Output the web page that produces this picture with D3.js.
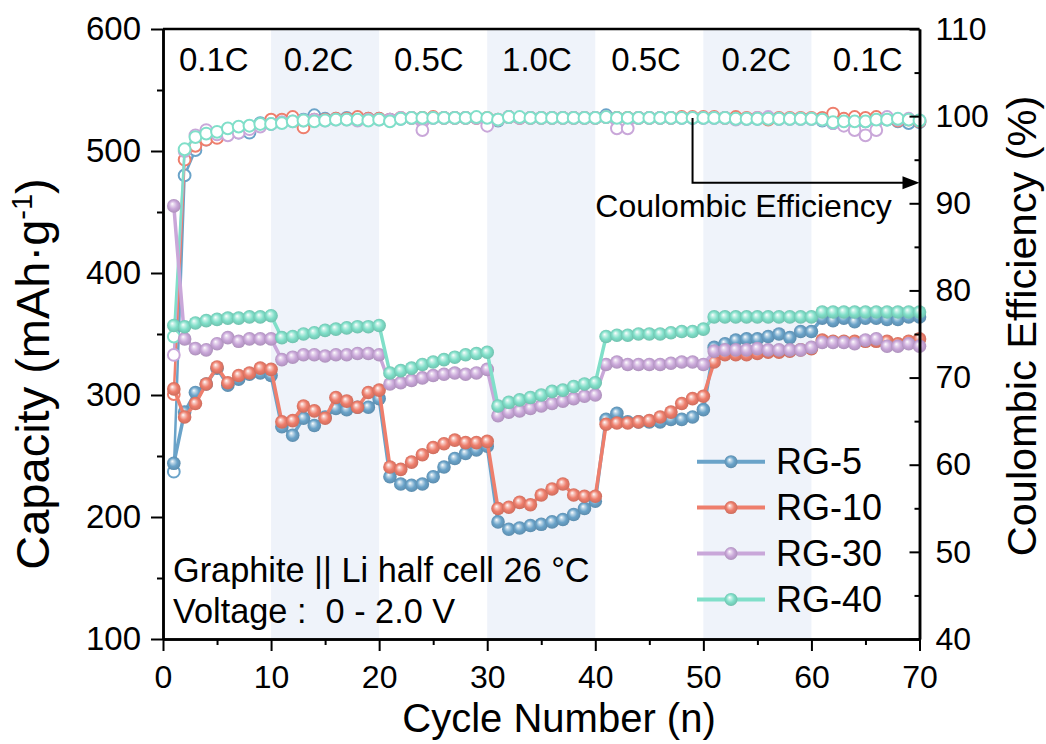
<!DOCTYPE html>
<html>
<head>
<meta charset="utf-8">
<script src="https://cdn.jsdelivr.net/npm/d3@7"></script>
<style>
  html, body { margin: 0; padding: 0; background: #fff; }
  svg { display: block; font-family: "Liberation Sans", Arial, Helvetica, sans-serif; }
  text { white-space: pre; }
</style>
</head>
<body>
<svg id="chart" width="1046" height="744"></svg>
<script>
// Rate-capability test: discharge capacity (left axis) and Coulombic efficiency (right axis)
const cycles = d3.range(1, 71);

const seriesNames = ["RG-5", "RG-10", "RG-30", "RG-40"];
const seriesColors = ["#6aa3c9", "#ee7e6c", "#c9a7d9", "#80dfc9"];

// Capacity (mAh/g) per cycle
const capRG5 = [244, 286, 302, 309, 322, 308, 313, 317, 318, 316,
                274, 267, 281, 275, 282, 289, 288, 290, 290, 297,
                233, 227, 226, 227, 233, 241, 248, 252, 255, 258,
                196, 190, 191, 193, 194, 196, 198, 202, 207, 213,
                280, 285, 278, 278, 278, 278, 280, 280, 282, 288,
                339, 342, 345, 346, 346, 348, 350, 347, 352, 352,
                363, 361, 363, 360, 363, 363, 362, 362, 364, 364];
const capRG10 = [305, 282, 293, 309, 323, 310, 316, 318, 322, 321,
                 278, 279, 291, 287, 281, 298, 295, 290, 302, 304,
                 241, 239, 245, 251, 257, 260, 263, 261, 261, 262,
                 207, 208, 212, 210, 218, 223, 227, 218, 217, 217,
                 276, 277, 277, 278, 279, 282, 286, 293, 297, 299,
                 327, 333, 333, 333, 334, 335, 335, 336, 337, 338,
                 345, 344, 344, 344, 344, 344, 344, 342, 344, 346];
const capRG30 = [455, 346, 338, 337, 342, 347, 344, 346, 346, 346,
                 329, 331, 333, 333, 332, 333, 333, 334, 334, 333,
                 309, 310, 312, 314, 316, 317, 318, 317, 318, 321,
                 283, 286, 287, 289, 291, 293, 295, 297, 299, 300,
                 325, 327, 325, 325, 325, 325, 326, 327, 327, 325,
                 336, 337, 337, 337, 338, 337, 337, 337, 337, 339,
                 343, 343, 343, 342, 345, 346, 340, 340, 342, 340];
const capRG40 = [357, 356, 359, 361, 362, 363, 363, 364, 364, 365,
                 347, 348, 350, 351, 353, 354, 355, 356, 356, 357,
                 318, 320, 322, 325, 327, 329, 331, 333, 334, 335,
                 291, 294, 296, 298, 300, 303, 304, 307, 309, 310,
                 348, 349, 349, 350, 350, 350, 351, 352, 352, 354,
                 364, 364, 364, 364, 364, 364, 364, 364, 364, 364,
                 368, 368, 368, 368, 368, 368, 368, 368, 368, 368];

// Coulombic efficiency (%) per cycle
const ceRG5 = [59.2, 93.2, 96.1, 97.3, 97.7, 98.0, 98.1, 98.1, 99.2, 99.1,
               99.4, 99.5, 99.6, 100.1, 99.7, 99.7, 99.8, 99.8, 99.7, 99.7,
               99.6, 99.7, 99.8, 99.8, 99.8, 99.8, 99.8, 99.8, 99.8, 99.6,
               99.5, 99.9, 99.8, 99.8, 99.8, 99.8, 99.8, 99.8, 99.8, 99.8,
               100.1, 99.8, 99.8, 99.8, 99.8, 99.8, 99.8, 99.8, 99.8, 99.8,
               99.8, 99.8, 99.7, 99.7, 99.7, 99.7, 99.7, 99.7, 99.7, 99.7,
               99.5, 99.2, 99.2, 99.2, 99.4, 99.6, 99.6, 99.4, 99.2, 99.3];
const ceRG10 = [68.1, 95.0, 96.6, 97.3, 97.5, 98.1, 98.3, 98.6, 99.0, 99.6,
                99.6, 99.9, 98.7, 99.6, 99.6, 99.7, 99.7, 99.9, 99.7, 99.7,
                99.6, 99.8, 99.8, 99.8, 99.9, 99.8, 99.8, 99.8, 99.8, 99.8,
                99.6, 99.9, 99.8, 99.8, 99.8, 99.8, 99.8, 99.8, 99.8, 99.8,
                99.9, 99.8, 99.8, 99.8, 99.8, 99.8, 99.8, 99.9, 99.9, 99.9,
                99.9, 99.8, 99.9, 99.8, 99.8, 99.6, 99.8, 99.8, 99.8, 99.8,
                99.8, 100.3, 99.7, 99.9, 99.8, 99.9, 99.7, 99.5, 99.6, 99.4];
const ceRG30 = [72.6, 96.0, 97.8, 98.4, 97.9, 97.8, 98.1, 98.5, 98.8, 99.1,
                99.3, 99.4, 99.5, 99.6, 99.5, 99.6, 99.6, 99.5, 99.6, 99.6,
                99.6, 99.8, 99.8, 98.4, 99.8, 99.8, 99.8, 99.8, 99.8, 98.9,
                99.6, 99.9, 99.8, 99.8, 99.8, 99.8, 99.8, 99.8, 99.8, 99.8,
                99.9, 98.6, 98.6, 99.8, 99.8, 99.8, 99.8, 99.8, 99.8, 99.8,
                99.8, 99.8, 99.6, 99.7, 99.8, 99.9, 99.7, 99.7, 99.7, 99.7,
                99.6, 99.2, 98.9, 98.4, 97.8, 98.4, 99.9, 99.6, 99.7, 99.5];
const ceRG40 = [74.7, 96.2, 97.6, 98.0, 98.2, 98.6, 98.8, 98.9, 99.1, 99.1,
                99.2, 99.4, 99.5, 99.4, 99.5, 99.6, 99.6, 99.6, 99.5, 99.6,
                99.4, 99.7, 99.8, 99.8, 99.8, 99.8, 99.8, 99.8, 99.9, 99.8,
                99.6, 99.9, 99.9, 99.8, 99.8, 99.8, 99.8, 99.8, 99.8, 99.8,
                99.9, 99.8, 99.8, 99.8, 99.8, 99.8, 99.8, 99.8, 99.8, 99.8,
                99.8, 99.8, 99.7, 99.7, 99.7, 99.7, 99.7, 99.7, 99.7, 99.7,
                99.6, 99.3, 99.4, 99.4, 99.4, 99.6, 99.6, 99.7, 99.6, 99.5];

const capSeries = [capRG5, capRG10, capRG30, capRG40];
const ceSeries = [ceRG5, ceRG10, ceRG30, ceRG40];

// Current-rate steps
const rateLabels = ["0.1C", "0.2C", "0.5C", "1.0C", "0.5C", "0.2C", "0.1C"];
const rateLabelX = [4.7, 14.4, 24.6, 34.6, 44.7, 54.9, 65.2];
const shadedBands = [[10, 20], [30, 40], [50, 60]];

// Axis ticks
const xMajor = d3.range(0, 71, 10);
const xMinor = d3.range(5, 70, 10);
const capMajor = d3.range(100, 601, 100);
const capMinor = d3.range(150, 600, 100);
const ceMajor = d3.range(40, 111, 10);
const ceMinor = d3.range(45, 110, 10);

// Arrow pointing from the efficiency curves to the right axis
const ceArrowCycle = 49;
const ceArrowLevel = 92.36;

const svg = d3.select("#chart");
const L = 163, R = 919.5, T = 29, B = 639;

const x = d3.scaleLinear().domain([0, 70]).range([L, R]);
const yCap = d3.scaleLinear().domain([100, 600]).range([B, T]);
const yCE = d3.scaleLinear().domain([40, 110]).range([B, T]);

// Sphere-like marker fills
const defs = svg.append("defs");
seriesColors.forEach((c, i) => {
  const g = defs.append("radialGradient")
    .attr("id", "ball" + i)
    .attr("cx", "50%").attr("cy", "50%").attr("r", "55%")
    .attr("fx", "38%").attr("fy", "34%");
  const col = d3.color(c);
  g.append("stop").attr("offset", "0%").attr("stop-color", "#ffffff");
  g.append("stop").attr("offset", "22%").attr("stop-color", d3.interpolateRgb("#ffffff", c)(0.45));
  g.append("stop").attr("offset", "55%").attr("stop-color", c);
  g.append("stop").attr("offset", "100%").attr("stop-color", col.darker(0.5).formatHex());
});

// Shaded rate windows
svg.append("g").selectAll("rect").data(shadedBands).join("rect")
  .attr("x", d => x(d[0])).attr("width", d => x(d[1]) - x(d[0]))
  .attr("y", T).attr("height", B - T)
  .attr("fill", "#eff3fa");

// Rate labels
svg.append("g").selectAll("text").data(rateLabels).join("text")
  .attr("x", (d, i) => x(rateLabelX[i])).attr("y", 70.5)
  .attr("text-anchor", "middle").attr("font-size", 33).attr("fill", "#000")
  .text(d => d);

// Coulombic efficiency curves (hollow circles)
const ceLine = d3.line().x((d, i) => x(cycles[i])).y(d => yCE(d));
ceSeries.forEach((s, k) => {
  const g = svg.append("g");
  g.append("path").attr("d", ceLine(s)).attr("fill", "none")
    .attr("stroke", seriesColors[k]).attr("stroke-width", 2.5);
  g.selectAll("circle").data(s).join("circle")
    .attr("cx", (d, i) => x(cycles[i])).attr("cy", d => yCE(d)).attr("r", 5.9)
    .attr("fill", "#fff").attr("stroke", seriesColors[k]).attr("stroke-width", 2);
});

// Capacity curves (ball markers)
const capLine = d3.line().x((d, i) => x(cycles[i])).y(d => yCap(d));
capSeries.forEach((s, k) => {
  const g = svg.append("g");
  g.append("path").attr("d", capLine(s)).attr("fill", "none")
    .attr("stroke", seriesColors[k]).attr("stroke-width", 3.5).attr("stroke-linejoin", "round");
  g.selectAll("circle").data(s).join("circle")
    .attr("cx", (d, i) => x(cycles[i])).attr("cy", d => yCap(d)).attr("r", 6.8)
    .attr("fill", `url(#ball${k})`);
});

// Efficiency arrow
const arrowPath = d3.path();
arrowPath.moveTo(x(ceArrowCycle), yCE(ceRG40[ceArrowCycle - 1]));
arrowPath.lineTo(x(ceArrowCycle), yCE(ceArrowLevel));
arrowPath.lineTo(x(70) - 14, yCE(ceArrowLevel));
svg.append("path").attr("d", arrowPath.toString()).attr("fill", "none")
  .attr("stroke", "#000").attr("stroke-width", 2);
svg.append("path")
  .attr("d", `M${x(70) - 17},${yCE(ceArrowLevel) - 6.5} L${x(70)},${yCE(ceArrowLevel)} L${x(70) - 17},${yCE(ceArrowLevel) + 6.5} Z`)
  .attr("fill", "#000");
svg.append("text").attr("x", x(40)).attr("y", 217)
  .attr("font-size", 32).attr("fill", "#000").text("Coulombic Efficiency");

// Test conditions
svg.append("text").attr("x", 173).attr("y", 581.5).attr("font-size", 34.3)
  .text("Graphite || Li half cell 26 °C");
svg.append("text").attr("x", 173).attr("y", 623).attr("font-size", 34.3)
  .text("Voltage :  0 - 2.0 V");

// Legend
const legend = svg.append("g");
seriesNames.forEach((name, k) => {
  const cy = 461.7 + k * 45.9;
  legend.append("line").attr("x1", 697).attr("x2", 765).attr("y1", cy).attr("y2", cy)
    .attr("stroke", seriesColors[k]).attr("stroke-width", 4);
  legend.append("circle").attr("cx", 731).attr("cy", cy).attr("r", 6.5)
    .attr("fill", `url(#ball${k})`);
  legend.append("text").attr("x", 776).attr("y", cy + 12.5).attr("font-size", 36).text(name);
});

// Axes
function styleAxis(g, fontSize) {
  g.selectAll("path.domain").attr("stroke", "#000").attr("stroke-width", 2.5);
  g.selectAll(".tick line").attr("stroke", "#000").attr("stroke-width", 2);
  g.selectAll(".tick text").attr("fill", "#000").attr("font-size", fontSize)
    .attr("font-family", "Liberation Sans, Arial, sans-serif");
}

// frame top
svg.append("line").attr("x1", L).attr("x2", R).attr("y1", T).attr("y2", T)
  .attr("stroke", "#000").attr("stroke-width", 2.5);

const xAxis = svg.append("g").attr("transform", `translate(0,${B})`)
  .call(d3.axisBottom(x).tickValues(xMajor).tickSizeInner(12).tickSizeOuter(0).tickPadding(14));
styleAxis(xAxis, 32);
const xAxisMinor = svg.append("g").attr("transform", `translate(0,${B})`)
  .call(d3.axisBottom(x).tickValues(xMinor).tickSizeInner(6).tickSizeOuter(0).tickFormat(""));
styleAxis(xAxisMinor, 32);

const yAxis = svg.append("g").attr("transform", `translate(${L},0)`)
  .call(d3.axisLeft(yCap).tickValues(capMajor).tickSizeInner(12).tickSizeOuter(0).tickPadding(10));
styleAxis(yAxis, 33);
const yAxisMinor = svg.append("g").attr("transform", `translate(${L},0)`)
  .call(d3.axisLeft(yCap).tickValues(capMinor).tickSizeInner(6).tickSizeOuter(0).tickFormat(""));
styleAxis(yAxisMinor, 33);

const yAxisR = svg.append("g").attr("transform", `translate(${R},0)`)
  .call(d3.axisRight(yCE).tickValues(ceMajor).tickSizeInner(-10).tickSizeOuter(0).tickPadding(16));
styleAxis(yAxisR, 32);
const yAxisRMinor = svg.append("g").attr("transform", `translate(${R},0)`)
  .call(d3.axisRight(yCE).tickValues(ceMinor).tickSizeInner(-5).tickSizeOuter(0).tickFormat(""));
styleAxis(yAxisRMinor, 32);

// Axis titles
svg.append("text").attr("x", 559).attr("y", 732).attr("text-anchor", "middle")
  .attr("font-size", 40).text("Cycle Number (n)");

const yTitle = svg.append("text")
  .attr("transform", "translate(49,374) rotate(-90)")
  .attr("text-anchor", "middle").attr("font-size", 47);
yTitle.append("tspan").text("Capacity (mAh·g");
yTitle.append("tspan").attr("font-size", 29).attr("dy", -17).text("-1");
yTitle.append("tspan").attr("dy", 17).text(")");

svg.append("text")
  .attr("transform", "translate(1036,326) rotate(-90)")
  .attr("text-anchor", "middle").attr("font-size", 41.5).text("Coulombic Efficiency (%)");
</script>
</body>
</html>
